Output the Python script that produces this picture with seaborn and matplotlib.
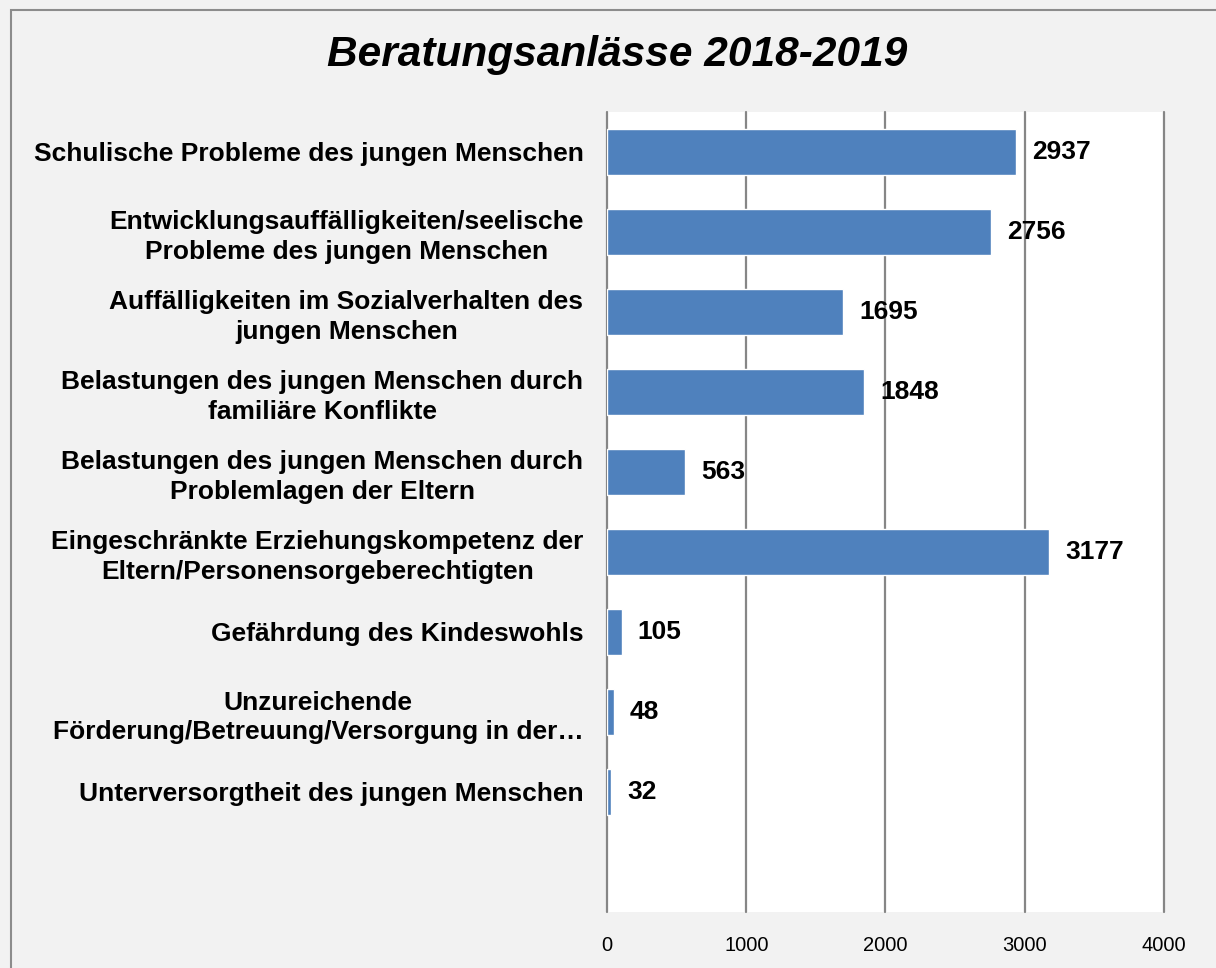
import seaborn as sns
import pandas as pd
import matplotlib.pyplot as plt
from matplotlib.patches import Rectangle

categories = [
    "Schulische Probleme des jungen Menschen",
    "Entwicklungsauffälligkeiten/seelische\nProbleme des jungen Menschen",
    "Auffälligkeiten im Sozialverhalten des\njungen Menschen",
    "Belastungen des jungen Menschen durch\nfamiliäre Konflikte",
    "Belastungen des jungen Menschen durch\nProblemlagen der Eltern",
    "Eingeschränkte Erziehungskompetenz der\nEltern/Personensorgeberechtigten",
    "Gefährdung des Kindeswohls",
    "Unzureichende\nFörderung/Betreuung/Versorgung in der…",
    "Unterversorgtheit des jungen Menschen",
]
counts = [2937, 2756, 1695, 1848, 563, 3177, 105, 48, 32]
x_ticks = [0, 1000, 2000, 3000, 4000]

df = pd.DataFrame({"anlass": categories, "anzahl": counts})

sns.set_style("white")
plt.rcParams["font.family"] = ["Liberation Sans", "DejaVu Sans"]
plt.rcParams["text.color"] = "black"
plt.rcParams["xtick.color"] = "black"
plt.rcParams["ytick.color"] = "black"

fig = plt.figure(figsize=(12.16, 9.68), dpi=100)
fig.patch.set_facecolor("#f2f2f2")
# outer chart frame (runs off the right and bottom edge like in the source)
fig.patches.append(Rectangle((10.5 / 1216, -0.2), 2.0, 1.2 - 9.5 / 968,
                             transform=fig.transFigure, fill=False,
                             edgecolor="#8c8c8c", linewidth=1.5))

ax = fig.add_axes([607 / 1216, 1 - 912 / 968, 557 / 1216, 800 / 968])
ax.set_facecolor("white")

sns.barplot(data=df, x="anzahl", y="anlass", orient="h", color="#4f81bd",
            width=0.575, saturation=1, ax=ax)

ax.set_xlim(0, 4000)
ax.set_ylim(9.5, -0.5)  # one empty slot below the last bar
ax.set_xticks(x_ticks)
ax.set_xticklabels([str(t) for t in x_ticks], fontsize=14.5)
ax.tick_params(axis="x", length=0, pad=17)
ax.tick_params(axis="y", length=0, pad=17)
for lab in ax.get_yticklabels():
    lab.set_fontsize(19)
    lab.set_fontweight("bold")
    lab.set_multialignment("center")
    lab.set_linespacing(1.3)

ax.set_axisbelow(True)
ax.grid(axis="x", color="#868686", linewidth=1.6)
for gl in ax.get_xgridlines():
    gl.set_clip_on(False)
for s in ax.spines.values():
    s.set_visible(False)
ax.set_xlabel("")
ax.set_ylabel("")

ax.bar_label(ax.containers[0], padding=11.5, fontsize=19, fontweight="bold")

fig.text(617.5 / 1216, 1 - 55 / 968, "Beratungsanlässe 2018-2019",
         ha="center", va="center", fontsize=30.5, fontweight="bold",
         fontstyle="italic")

plt.savefig("out.png", dpi=100, facecolor=fig.get_facecolor())
